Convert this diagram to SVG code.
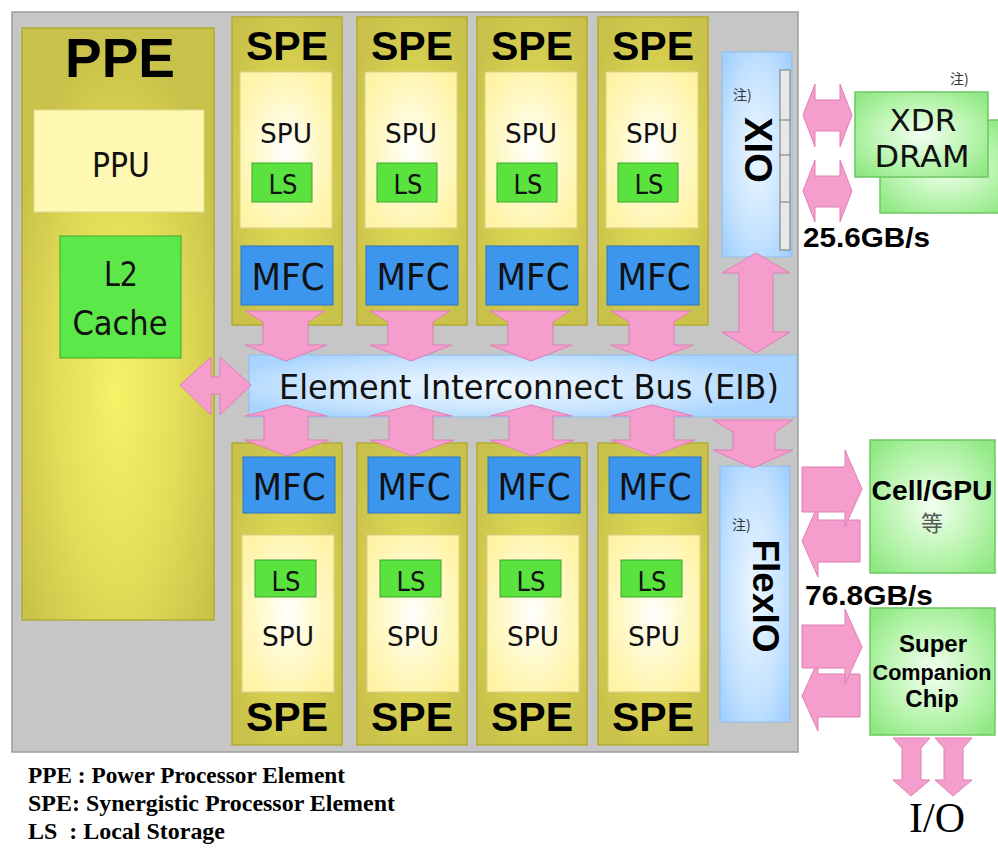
<svg xmlns="http://www.w3.org/2000/svg" width="998" height="848" viewBox="0 0 998 848">
<defs>
<radialGradient id="gPPE" cx="0.5" cy="0.62" r="0.6">
<stop offset="0" stop-color="#f7f268"/><stop offset="0.55" stop-color="#e2dc58"/><stop offset="1" stop-color="#c9c24a"/>
</radialGradient>
<radialGradient id="gOlive" cx="0.5" cy="0.5" r="0.6">
<stop offset="0" stop-color="#e6e05a"/><stop offset="1" stop-color="#c9c24a"/>
</radialGradient>
<radialGradient id="gSpu" cx="0.5" cy="0.5" r="0.6">
<stop offset="0" stop-color="#ffffff"/><stop offset="0.6" stop-color="#fff8c4"/><stop offset="1" stop-color="#fff3a6"/>
</radialGradient>
<radialGradient id="gBlue" cx="0.5" cy="0.5" r="0.7">
<stop offset="0" stop-color="#eef7ff"/><stop offset="0.6" stop-color="#c4e2ff"/><stop offset="1" stop-color="#9ccdff"/>
</radialGradient>
<radialGradient id="gEIB" cx="0.45" cy="0.5" r="0.6" gradientTransform="translate(0.05 0) scale(0.9 1)">
<stop offset="0" stop-color="#f2f9ff"/><stop offset="0.7" stop-color="#c6e3ff"/><stop offset="1" stop-color="#a8d4ff"/>
</radialGradient>
<radialGradient id="gGreen" cx="0.5" cy="0.5" r="0.65">
<stop offset="0" stop-color="#f4fff2"/><stop offset="0.6" stop-color="#b8f4ae"/><stop offset="1" stop-color="#8fe882"/>
</radialGradient>
<style>
.chip{fill:#c6c6c6;stroke:#9c9c9c;stroke-width:1.5}
.olive{fill:url(#gOlive);stroke:#b3aa34;stroke-width:1.5}
.spu{fill:url(#gSpu);stroke:#d9d08a;stroke-width:1}
.ls{fill:#5ae23f;stroke:#3ea52c;stroke-width:1}
.mfc{fill:#3c96ee;stroke:#2a77c6;stroke-width:1}
.io{fill:url(#gBlue);stroke:#8fbde8;stroke-width:1}
.grn{fill:url(#gGreen);stroke:#6cc862;stroke-width:1.5}
.arrow{fill:#f59dcc;stroke:#df7fb5;stroke-width:1}
.t{font-family:"DejaVu Sans","Liberation Sans",sans-serif;fill:#111;text-anchor:middle}
.b{font-family:"Liberation Sans",Arial,sans-serif;font-weight:bold;fill:#000;text-anchor:middle}
.bs{font-family:"Liberation Sans",Arial,sans-serif;font-weight:bold;fill:#000;text-anchor:start}
.serif{font-family:"Liberation Serif","Times New Roman",serif;font-weight:bold;fill:#000}
.io-t{font-family:"Liberation Serif","Times New Roman",serif;font-weight:normal;fill:#000;text-anchor:middle}
.note{font-family:"Noto Sans CJK JP","Noto Sans CJK SC",sans-serif;font-size:14px;fill:#333}
</style>
</defs>

<g id="chip">
<rect class="chip" x="12" y="12" width="786" height="740"/>
</g>

<g id="PPE">
<rect x="22" y="28" width="192" height="592" fill="url(#gPPE)" stroke="#b3aa34" stroke-width="1.5"/>
<text class="b" x="120" y="77" font-size="55">PPE</text>
<rect x="34" y="110" width="170" height="102" fill="#fff8b2" stroke="#e0d890"/>
<text class="t" x="121" y="177" font-size="33" textLength="58" lengthAdjust="spacingAndGlyphs">PPU</text>
<rect x="60" y="236" width="121" height="122" fill="#5de84a" stroke="#3ea52c"/>
<text class="t" x="121" y="286" font-size="34" textLength="34" lengthAdjust="spacingAndGlyphs">L2</text>
<text class="t" x="120" y="335" font-size="34" textLength="95" lengthAdjust="spacingAndGlyphs">Cache</text>
</g>

<g id="SPE-top-1">
<rect class="olive" x="232" y="17" width="110" height="308"/>
<text class="b" x="287" y="60" font-size="41">SPE</text>
<rect class="spu" x="240" y="72" width="92" height="156"/>
<text class="t" x="286" y="143" font-size="26" textLength="52" lengthAdjust="spacingAndGlyphs">SPU</text>
<rect class="ls" x="252" y="163" width="60" height="39"/>
<text class="t" x="283" y="194" font-size="27" textLength="29" lengthAdjust="spacingAndGlyphs">LS</text>
<rect class="mfc" x="241" y="246" width="92" height="59"/>
<text class="t" x="288" y="290" font-size="38" textLength="73" lengthAdjust="spacingAndGlyphs">MFC</text>
</g>
<g id="SPE-top-2">
<rect class="olive" x="357" y="17" width="110" height="308"/>
<text class="b" x="412" y="60" font-size="41">SPE</text>
<rect class="spu" x="365" y="72" width="92" height="156"/>
<text class="t" x="411" y="143" font-size="26" textLength="52" lengthAdjust="spacingAndGlyphs">SPU</text>
<rect class="ls" x="377" y="163" width="60" height="39"/>
<text class="t" x="408" y="194" font-size="27" textLength="29" lengthAdjust="spacingAndGlyphs">LS</text>
<rect class="mfc" x="366" y="246" width="92" height="59"/>
<text class="t" x="413" y="290" font-size="38" textLength="73" lengthAdjust="spacingAndGlyphs">MFC</text>
</g>
<g id="SPE-top-3">
<rect class="olive" x="477" y="17" width="110" height="308"/>
<text class="b" x="532" y="60" font-size="41">SPE</text>
<rect class="spu" x="485" y="72" width="92" height="156"/>
<text class="t" x="531" y="143" font-size="26" textLength="52" lengthAdjust="spacingAndGlyphs">SPU</text>
<rect class="ls" x="497" y="163" width="60" height="39"/>
<text class="t" x="528" y="194" font-size="27" textLength="29" lengthAdjust="spacingAndGlyphs">LS</text>
<rect class="mfc" x="486" y="246" width="92" height="59"/>
<text class="t" x="533" y="290" font-size="38" textLength="73" lengthAdjust="spacingAndGlyphs">MFC</text>
</g>
<g id="SPE-top-4">
<rect class="olive" x="598" y="17" width="110" height="308"/>
<text class="b" x="653" y="60" font-size="41">SPE</text>
<rect class="spu" x="606" y="72" width="92" height="156"/>
<text class="t" x="652" y="143" font-size="26" textLength="52" lengthAdjust="spacingAndGlyphs">SPU</text>
<rect class="ls" x="618" y="163" width="60" height="39"/>
<text class="t" x="649" y="194" font-size="27" textLength="29" lengthAdjust="spacingAndGlyphs">LS</text>
<rect class="mfc" x="607" y="246" width="92" height="59"/>
<text class="t" x="654" y="290" font-size="38" textLength="73" lengthAdjust="spacingAndGlyphs">MFC</text>
</g>

<g id="SPE-bottom-1">
<rect class="olive" x="232" y="443" width="110" height="302"/>
<rect class="mfc" x="243" y="457" width="92" height="56"/>
<text class="t" x="289" y="500" font-size="38" textLength="73" lengthAdjust="spacingAndGlyphs">MFC</text>
<rect class="spu" x="242" y="535" width="92" height="157"/>
<rect class="ls" x="255" y="560" width="61" height="37"/>
<text class="t" x="286" y="591" font-size="27" textLength="29" lengthAdjust="spacingAndGlyphs">LS</text>
<text class="t" x="288" y="646" font-size="26" textLength="52" lengthAdjust="spacingAndGlyphs">SPU</text>
<text class="b" x="287" y="731" font-size="41">SPE</text>
</g>
<g id="SPE-bottom-2">
<rect class="olive" x="357" y="443" width="110" height="302"/>
<rect class="mfc" x="368" y="457" width="92" height="56"/>
<text class="t" x="414" y="500" font-size="38" textLength="73" lengthAdjust="spacingAndGlyphs">MFC</text>
<rect class="spu" x="367" y="535" width="92" height="157"/>
<rect class="ls" x="380" y="560" width="61" height="37"/>
<text class="t" x="411" y="591" font-size="27" textLength="29" lengthAdjust="spacingAndGlyphs">LS</text>
<text class="t" x="413" y="646" font-size="26" textLength="52" lengthAdjust="spacingAndGlyphs">SPU</text>
<text class="b" x="412" y="731" font-size="41">SPE</text>
</g>
<g id="SPE-bottom-3">
<rect class="olive" x="477" y="443" width="110" height="302"/>
<rect class="mfc" x="488" y="457" width="92" height="56"/>
<text class="t" x="534" y="500" font-size="38" textLength="73" lengthAdjust="spacingAndGlyphs">MFC</text>
<rect class="spu" x="487" y="535" width="92" height="157"/>
<rect class="ls" x="500" y="560" width="61" height="37"/>
<text class="t" x="531" y="591" font-size="27" textLength="29" lengthAdjust="spacingAndGlyphs">LS</text>
<text class="t" x="533" y="646" font-size="26" textLength="52" lengthAdjust="spacingAndGlyphs">SPU</text>
<text class="b" x="532" y="731" font-size="41">SPE</text>
</g>
<g id="SPE-bottom-4">
<rect class="olive" x="598" y="443" width="110" height="302"/>
<rect class="mfc" x="609" y="457" width="92" height="56"/>
<text class="t" x="655" y="500" font-size="38" textLength="73" lengthAdjust="spacingAndGlyphs">MFC</text>
<rect class="spu" x="608" y="535" width="92" height="157"/>
<rect class="ls" x="621" y="560" width="61" height="37"/>
<text class="t" x="652" y="591" font-size="27" textLength="29" lengthAdjust="spacingAndGlyphs">LS</text>
<text class="t" x="654" y="646" font-size="26" textLength="52" lengthAdjust="spacingAndGlyphs">SPU</text>
<text class="b" x="653" y="731" font-size="41">SPE</text>
</g>

<g id="EIB">
<rect x="249" y="355" width="548" height="62" fill="url(#gEIB)" stroke="#8fbde8"/>
<text class="t" x="529" y="399" font-size="33" textLength="500" lengthAdjust="spacingAndGlyphs">Element Interconnect Bus (EIB)</text>
</g>

<g id="XIO">
<rect class="io" x="722" y="52" width="70" height="205"/>
<rect x="780" y="70" width="10" height="180" fill="#e8e8e8" stroke="#777" stroke-width="1"/>
<line x1="780" y1="120" x2="790" y2="120" stroke="#777"/>
<line x1="780" y1="155" x2="790" y2="155" stroke="#777"/>
<line x1="780" y1="202" x2="790" y2="202" stroke="#777"/>
<text class="note" x="733" y="100">注)</text>
<text class="b" font-size="38" transform="translate(758,150) rotate(90)" x="0" y="13">XIO</text>
</g>

<g id="FlexIO">
<rect class="io" x="720" y="466" width="70" height="256"/>
<text class="note" x="732" y="530">注)</text>
<text class="b" font-size="37" transform="translate(766,596) rotate(90)" x="0" y="13">FlexIO</text>
</g>

<g id="XDR-DRAM">
<rect class="grn" x="880" y="120" width="130" height="93"/>
<rect class="grn" x="855" y="92" width="133" height="85"/>
<text class="note" x="950" y="84">注)</text>
<text class="t" x="923" y="131" font-size="31" textLength="67" lengthAdjust="spacingAndGlyphs">XDR</text>
<text class="t" x="922" y="167" font-size="31" textLength="95" lengthAdjust="spacingAndGlyphs">DRAM</text>
</g>

<g id="Cell-GPU">
<rect class="grn" x="870" y="440" width="125" height="133"/>
<text class="b" x="932" y="500" font-size="27" textLength="121" lengthAdjust="spacingAndGlyphs">Cell/GPU</text>
<text x="932" y="531" font-size="22" fill="#555" text-anchor="middle" font-family="Noto Sans CJK JP,Noto Sans CJK SC,sans-serif">等</text>
</g>

<g id="Super-Companion-Chip">
<rect class="grn" x="870" y="608" width="125" height="127"/>
<text class="b" x="933" y="652" font-size="24">Super</text>
<text class="b" x="932" y="680" font-size="22" textLength="119" lengthAdjust="spacingAndGlyphs">Companion</text>
<text class="b" x="932" y="707" font-size="24">Chip</text>
</g>

<g id="labels">
<text class="bs" x="803" y="247" font-size="27" textLength="127" lengthAdjust="spacingAndGlyphs">25.6GB/s</text>
<text class="bs" x="805" y="605" font-size="27" textLength="128" lengthAdjust="spacingAndGlyphs">76.8GB/s</text>
<text class="io-t" x="937" y="832" font-size="42">I/O</text>
<text class="serif" x="28" y="783" font-size="23" textLength="317" lengthAdjust="spacingAndGlyphs">PPE : Power Processor Element</text>
<text class="serif" x="28" y="811" font-size="23" textLength="367" lengthAdjust="spacingAndGlyphs">SPE: Synergistic Processor Element</text>
<text class="serif" x="28" y="839" font-size="23" xml:space="preserve" textLength="197" lengthAdjust="spacingAndGlyphs">LS  : Local Storage</text>
</g>

<g id="connectors">
<polygon class="arrow" points="180,385 211,357 211,377 220,377 220,357 251,385 220,415 220,394 211,394 211,415"/>
<polygon class="arrow" points="245,311 325,311 308,322 308,345 327,345 286,361 245,345 263,345 263,322"/>
<polygon class="arrow" points="370,311 450,311 433,322 433,345 452,345 411,361 370,345 388,345 388,322"/>
<polygon class="arrow" points="490,311 570,311 553,322 553,345 572,345 531,361 490,345 508,345 508,322"/>
<polygon class="arrow" points="611,311 691,311 674,322 674,345 693,345 652,361 611,345 629,345 629,322"/>
<polygon class="arrow" points="286,405 327,416 308,416 308,440 329,440 287,456 245,440 264,440 264,416 245,416"/>
<polygon class="arrow" points="411,405 452,416 433,416 433,440 454,440 412,456 370,440 389,440 389,416 370,416"/>
<polygon class="arrow" points="531,405 572,416 553,416 553,440 574,440 532,456 490,440 509,440 509,416 490,416"/>
<polygon class="arrow" points="652,405 693,416 674,416 674,440 695,440 653,456 611,440 630,440 630,416 611,416"/>
<polygon class="arrow" points="756,253 790,273 773,273 773,332 790,332 756,353 722,332 739,332 739,273 722,273"/>
<polygon class="arrow" points="713,420 793,420 775,432 775,450 793,450 753,468 713,450 733,450 733,432"/>
<polygon class="arrow" points="803,115 815,84 815,100 840,100 840,84 852,115 840,147 840,131 815,131 815,147"/>
<polygon class="arrow" points="803,191 815,160 815,176 840,176 840,160 852,191 840,222 840,207 815,207 815,222"/>
<polygon class="arrow" points="818,520 860,520 860,562 818,562 818,577 802,541 818,505"/>
<polygon class="arrow" points="802,467 845,467 845,450 862,489 845,527 845,512 802,512"/>
<polygon class="arrow" points="818,674 860,674 860,717 818,717 818,731 802,696 818,661"/>
<polygon class="arrow" points="802,625 845,625 845,609 862,647 845,684 845,668 802,668"/>
<polygon class="arrow" points="893,738 930,738 921,748 921,780 930,780 911,796 893,780 902,780 902,748"/>
<polygon class="arrow" points="935,738 972,738 963,748 963,780 972,780 953,796 935,780 944,780 944,748"/>
</g>
</svg>
